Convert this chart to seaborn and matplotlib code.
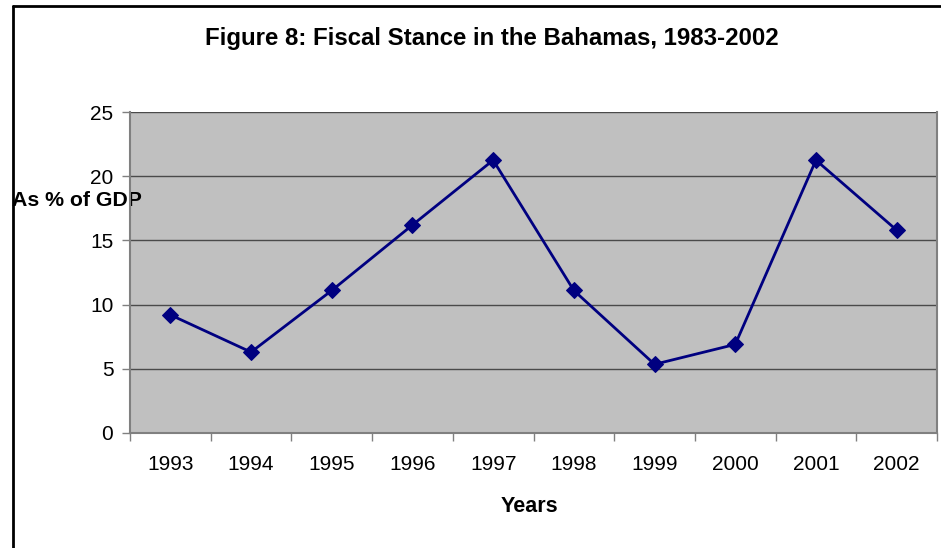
import matplotlib
matplotlib.use("Agg")
import matplotlib.pyplot as plt
import seaborn as sns
import pandas as pd
import numpy as np
from matplotlib.lines import Line2D

years = ["1993", "1994", "1995", "1996", "1997", "1998", "1999", "2000", "2001", "2002"]
values = [9.2, 6.3, 11.1, 16.2, 21.25, 11.1, 5.35, 6.9, 21.25, 15.8]
yticks = [0, 5, 10, 15, 20, 25]

title = "Figure 8: Fiscal Stance in the Bahamas, 1983-2002"
xlabel = "Years"
ylabel = "As % of GDP"

sns.set_theme(style="white")
plt.rcParams["font.family"] = ["Liberation Sans", "DejaVu Sans"]

df = pd.DataFrame({"year": years, "value": values})

fig = plt.figure(figsize=(9.41, 5.48), dpi=100)
fig.patch.set_facecolor("white")
ax = fig.add_axes([130/941, 1 - 433/548, (937-130)/941, (433-112)/548])
ax.set_facecolor("#C0C0C0")

sns.lineplot(data=df, x="year", y="value", ax=ax, color="#000080",
             marker="D", markersize=8, markeredgecolor="#000080",
             linewidth=2, sort=False)

ax.set_ylim(0, 25)
ax.set_xlim(-0.5, len(years) - 0.5)
ax.set_yticks(yticks)
ax.set_yticklabels([str(t) for t in yticks])
ax.set_xticks(range(len(years)))
ax.set_xticklabels(years)
ax.set_xticks(np.arange(-0.5, len(years), 1), minor=True)

for y in yticks[1:]:
    ax.axhline(y, color="#4a4a4a", linewidth=1, zorder=0.5)

for s in ["left", "bottom", "right", "top"]:
    ax.spines[s].set_color("#808080")
    ax.spines[s].set_linewidth(1.5)
ax.spines["top"].set_visible(False)

ax.tick_params(axis="x", which="major", length=0, pad=16, labelsize=15, labelcolor="black")
ax.tick_params(axis="x", which="minor", length=6, width=1, color="#808080", direction="out", bottom=True)
ax.tick_params(axis="y", which="major", length=6, width=1, color="#808080", direction="out",
               left=True, pad=6, labelsize=15, labelcolor="black")

ax.set_xlabel(xlabel, fontsize=15.5, fontweight="bold", color="black")
ax.xaxis.set_label_coords((529-130)/807, (433-496)/321)
ax.xaxis.label.set_va("top")

ax.set_ylabel(ylabel, fontsize=15.3, fontweight="bold", color="black", rotation=0,
              ha="left", va="center")
ax.yaxis.set_label_coords((12-130)/807, (433-201)/321)

fig.suptitle(title, x=492/941, y=1 - 38/548, va="center", ha="center",
             fontsize=17.3, fontweight="bold", color="black")

# figure border (left and top visible)
fig.add_artist(Line2D([12.5/941, 12.5/941], [0, 1 - 6/548], transform=fig.transFigure,
                      color="black", linewidth=2))
fig.add_artist(Line2D([12.5/941, 1.0], [1 - 6/548, 1 - 6/548], transform=fig.transFigure,
                      color="black", linewidth=2))

fig.savefig("out.png", dpi=100, facecolor="white")
